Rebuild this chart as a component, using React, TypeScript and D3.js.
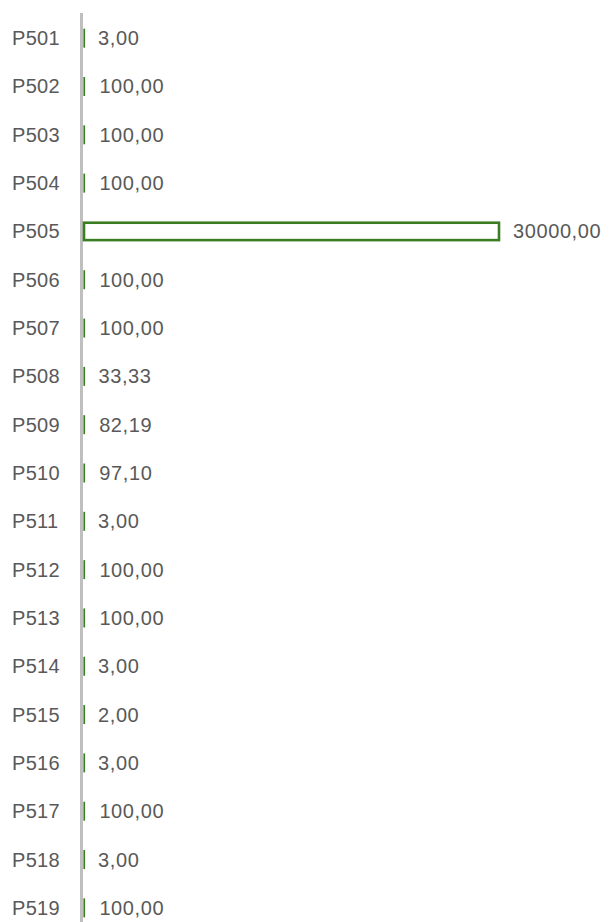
import React, { useEffect, useRef } from "react";
import * as d3 from "d3";

const categories = [
  "P501", "P502", "P503", "P504", "P505", "P506", "P507", "P508", "P509", "P510",
  "P511", "P512", "P513", "P514", "P515", "P516", "P517", "P518", "P519",
];
const values = [
  3, 100, 100, 100, 30000, 100, 100, 33.33, 82.19, 97.1,
  3, 100, 100, 3, 2, 3, 100, 3, 100,
];

const W = 610;
const H = 922;
const GREEN = "#3a7d22";

export default function App() {
  const ref = useRef<SVGSVGElement>(null);

  useEffect(() => {
    const svg = d3.select(ref.current);
    svg.selectAll("*").remove();

    const data = categories.map((c, i) => ({ label: c, value: values[i] }));

    const x = d3.scaleLinear().domain([0, 30000]).range([84, 499]);
    const y = d3
      .scaleBand()
      .domain(categories)
      .range([14, 932])
      .paddingInner(0.64)
      .paddingOuter(0.32);

    const font = "'Liberation Sans', Arial, sans-serif";
    const barW = (v: number) => x(v) - x(0);

    // vertical axis line
    svg
      .append("line")
      .attr("x1", 81.5)
      .attr("x2", 81.5)
      .attr("y1", 13)
      .attr("y2", H + 10)
      .attr("stroke", "#bfbfbf")
      .attr("stroke-width", 3);

    // category labels
    svg
      .append("g")
      .selectAll("text")
      .data(data)
      .enter()
      .append("text")
      .attr("x", 12)
      .attr("y", (d) => y(d.label)! + y.bandwidth() / 2)
      .attr("dy", "0.35em")
      .style("font-family", font)
      .style("font-size", "20px")
      .style("letter-spacing", "0.3px")
      .style("fill", "#595959")
      .text((d) => d.label);

    // wide bars: white fill with green outline
    svg
      .append("g")
      .selectAll("rect")
      .data(data.filter((d) => barW(d.value) >= 3))
      .enter()
      .append("rect")
      .attr("x", x(0))
      .attr("y", (d) => y(d.label)!)
      .attr("width", (d) => barW(d.value))
      .attr("height", y.bandwidth())
      .attr("fill", "#ffffff")
      .attr("stroke", GREEN)
      .attr("stroke-width", 2.6);

    // tiny bars collapse to a thin green line
    svg
      .append("g")
      .selectAll("rect")
      .data(data.filter((d) => barW(d.value) < 3))
      .enter()
      .append("rect")
      .attr("x", x(0) - 0.6)
      .attr("y", (d) => y(d.label)! - 0.8)
      .attr("width", 1.7)
      .attr("height", y.bandwidth() + 1.6)
      .attr("fill", GREEN);

    // value labels
    svg
      .append("g")
      .selectAll("text")
      .data(data)
      .enter()
      .append("text")
      .attr("x", (d) => x(d.value) + 14)
      .attr("y", (d) => y(d.label)! + y.bandwidth() / 2)
      .attr("dy", "0.35em")
      .style("font-family", font)
      .style("font-size", "20px")
      .style("letter-spacing", "0.6px")
      .style("fill", "#595959")
      .text((d) => d.value.toFixed(2).replace(".", ","));
  }, []);

  return (
    <svg
      ref={ref}
      width={W}
      height={H}
      style={{ position: "absolute", left: 0, top: 0, background: "#fff" }}
    />
  );
}
